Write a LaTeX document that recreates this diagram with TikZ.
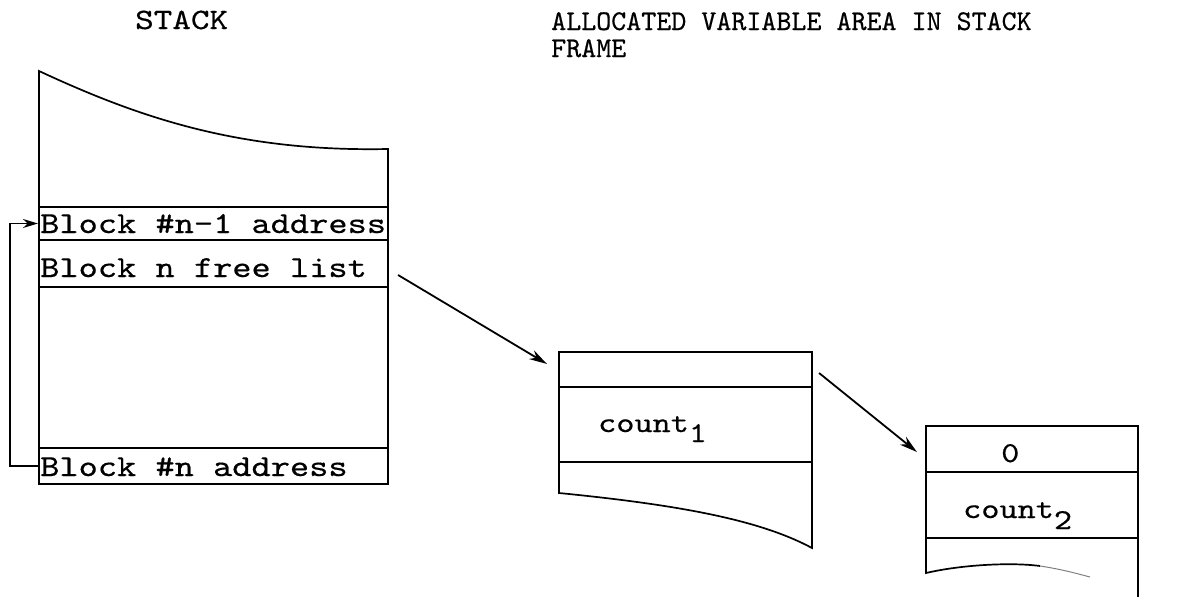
\documentclass[tikz,border=0pt]{standalone}
\usepackage{fontspec}
\newfontfamily\twf{lmmono10-regular.otf}[FakeStretch=1.2,FakeBold=0.5]
\newfontfamily\twn{lmmono10-regular.otf}[FakeBold=0.5]
\usetikzlibrary{arrows.meta,calc}
\begin{document}
\begin{tikzpicture}[x=1pt,y=-1pt,
  outline/.style={line width=1.7pt},
  cell/.style={draw,line width=2.1pt,inner sep=0pt,minimum width=#1},
  txt/.style={font=\twf\fontsize{30.5}{33}\selectfont,inner sep=0pt,anchor=base west},
  cnt/.style={font=\twf\fontsize{28.8}{31}\selectfont,inner sep=0pt,anchor=base west},
  ttl/.style={font=\twn\fontsize{28.6}{30}\selectfont,inner sep=0pt,anchor=base west},
  arr/.style={line width=1.8pt,-{Stealth[length=18pt,width=10pt]}}]
\useasboundingbox (0,0) rectangle (1180,597);
% titles
\node[txt,font=\twf\fontsize{29.5}{32}\selectfont] (tstack) at (135,29) {STACK};
\node[ttl] (talloc) at (551,30) {ALLOCATED VARIABLE AREA IN STACK};
\node[ttl] (tframe) at (551,57) {FRAME};
% stack outline
\draw[outline] (39,484) -- (39,71) .. controls (140,118) and (240,152) .. (388,149) -- (388,484);
\node[cell=349pt,minimum height=33pt] (n1) at (213.5,223.5) {};
\node[cell=349pt,minimum height=47pt] (n2) at (213.5,263.5) {};
\node[cell=349pt,minimum height=36pt] (n3) at (213.5,466) {};
\node[txt] (l1) at (40,233) {Block \#n-1 address};
\node[txt] (l2) at (40,277) {Block n free list};
\node[txt] (l3) at (40,476) {Block \#n address};
% box 2
\draw[outline] (559,387) -- (559,493) .. controls (680,505) and (760,520) .. (812,548) -- (812,387);
\node[cell=253pt,minimum height=35pt] (b2a) at (685.5,369.5) {};
\node[cell=253pt,minimum height=75pt] (b2b) at (685.5,424.5) {};
\node[cnt] (c1) at (598,432) {count\raisebox{-10pt}{1}};
% box 3
\draw[outline] (926,538) -- (926,573) .. controls (960,565) and (1010,562) .. (1040,566);
\draw[line width=1pt,gray] (1040,566) .. controls (1060,569) and (1075,573) .. (1090,577);
\draw[outline] (1138,538) -- (1138,597);
\node[cell=212pt,minimum height=46pt] (b3a) at (1032,449) {};
\node[cell=212pt,minimum height=66pt] (b3b) at (1032,505) {};
\node[cnt] (z0) at (1001,462) {0};
\node[cnt] (c2) at (963,518) {count\raisebox{-11pt}{2}};
% connectors
\draw[line width=1.8pt,-{Stealth[length=15pt,width=9pt]}] (n3.west) -- ++(-28,0) |- (n1.west);
\draw[arr] ($(n2.east)+(9,11.5)$) -- ($(b2a.north west)+(-11,13)$);
\draw[arr] ($(b2a.east)+(6,3.5)$) -- ($(b3a.west)+(-8,3)$);
\end{tikzpicture}
\end{document}
